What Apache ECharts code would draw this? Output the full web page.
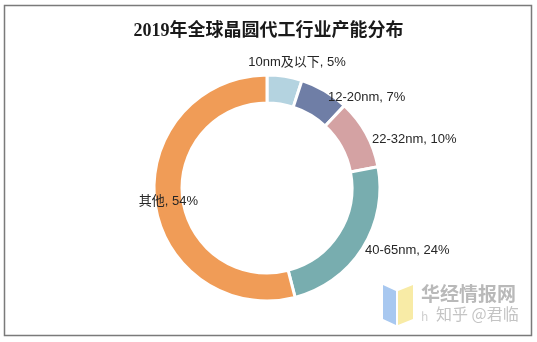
<!DOCTYPE html>
<html><head><meta charset="utf-8">
<script src="https://cdn.jsdelivr.net/npm/echarts@6/dist/echarts.min.js"></script>
<style>html,body{margin:0;padding:0;background:#fff}#c{width:537px;height:342px}</style>
</head><body><div id="c"></div>
<script>
var titleText = '2019年全球晶圆代工行业产能分布';
var categories = ['10nm及以下', '12-20nm', '22-32nm', '40-65nm', '其他'];
var values = [5, 7, 10, 24, 54];
var colors = ['#b4d3e0', '#6f7ea6', '#d4a2a3', '#78adaf', '#f09c57'];

var labelPos = [
  {x: 297, y: 62, align: 'center'},
  {x: 328, y: 97, align: 'left'},
  {x: 372, y: 139, align: 'left'},
  {x: 365, y: 250, align: 'left'},
  {x: 198, y: 201, align: 'right'}
];

var chart = echarts.init(document.getElementById('c'), null, {renderer: 'canvas'});
chart.setOption({
  animation: false,
  backgroundColor: '#fff',
  title: {
    text: titleText, left: 'center', top: 17,
    textStyle: {fontFamily: '"Liberation Serif","Noto Sans CJK SC",serif', fontWeight: 'bold', fontSize: 18, color: '#1a1a1a'}
  },
  graphic: [
    {type: 'rect', shape: {x: 4.5, y: 5.5, width: 527, height: 330}, style: {fill: 'none', stroke: '#7a7a7a', lineWidth: 1.5}, z: 10},
    {type: 'polygon', shape: {points: [[383, 285], [396, 291], [396, 325], [383, 319]]}, style: {fill: '#a8c8f0'}},
    {type: 'polygon', shape: {points: [[398, 291], [413, 285], [413, 319], [398, 325]]}, style: {fill: '#f8eba6'}},
    {type: 'text', style: {text: '华经情报网', x: 421, y: 284, fill: '#b9b9b9', font: 'bold 19px "Noto Sans CJK SC"'}},
    {type: 'text', style: {text: 'h', x: 421, y: 310, fill: '#d0d0d0', font: '12px "Noto Sans CJK SC"'}},
    {type: 'text', style: {text: '知乎 @君临', x: 436, y: 306, fill: '#c4c4c4', font: '16px "Noto Sans CJK SC"'}}
  ],
  series: [{
    type: 'pie',
    center: [267, 188],
    radius: [85, 113],
    startAngle: 90,
    clockwise: true,
    itemStyle: {borderColor: '#fff', borderWidth: 3},
    label: {
      show: true, position: 'outside',
      formatter: function (p) { return p.name + ', ' + p.value + '%'; },
      fontFamily: '"Liberation Sans","Noto Sans CJK SC",sans-serif', fontSize: 13, color: '#262626'
    },
    labelLine: {show: false, length: 0, length2: 0},
    labelLayout: function (p) {
      var l = labelPos[p.dataIndex];
      return {x: l.x, y: l.y, align: l.align, verticalAlign: 'middle', hideOverlap: false};
    },
    emphasis: {disabled: true},
    data: categories.map(function (c, i) { return {name: c, value: values[i], itemStyle: {color: colors[i]}}; })
  }]
});
</script></body></html>
